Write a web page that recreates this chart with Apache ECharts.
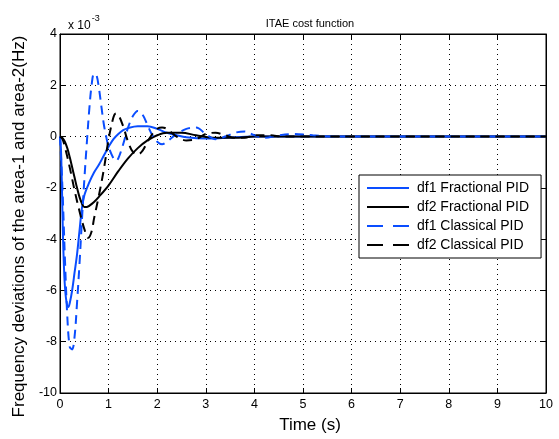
<!DOCTYPE html>
<html><head><meta charset="utf-8">
<script src="https://cdn.jsdelivr.net/npm/echarts@6/dist/echarts.min.js"></script>
<style>html,body{margin:0;padding:0;background:#fff}#c{width:559px;height:439px}</style>
</head><body><div id="c"></div>
<script>
// values in units of 1e-3 Hz
var tBlueSolid = [0,0.02,0.04,0.06,0.08,0.1,0.13,0.17,0.2,0.25,0.3,0.35,0.4,0.45,0.5,0.6,0.7,0.8,0.9,1.0,1.1,1.2,1.3,1.4,1.6,1.8,2.0,2.2,2.4,2.6,3.0,3.4,4,5,6,7,8,9,10];
var df1Fractional = [0,-0.5,-2.0,-3.8,-5.0,-5.8,-6.4,-6.65,-6.5,-6.0,-5.3,-4.6,-3.7,-2.8,-2.3,-1.8,-1.4,-1.1,-0.75,-0.4,-0.1,0.1,0.25,0.33,0.4,0.4,0.3,0.15,0.05,-0.03,-0.08,-0.05,0,0,0,0,0,0,0];

var tBlackSolid = [0,0.05,0.1,0.15,0.2,0.25,0.3,0.35,0.4,0.45,0.5,0.55,0.6,0.7,0.8,1.0,1.2,1.4,1.6,1.8,2.0,2.2,2.5,2.8,3.2,3.6,4,5,6,7,8,9,10];
var df2Fractional = [0,-0.05,-0.2,-0.45,-0.8,-1.2,-1.6,-2.0,-2.35,-2.6,-2.75,-2.75,-2.7,-2.55,-2.35,-1.9,-1.35,-0.85,-0.45,-0.15,0.05,0.15,0.15,0.05,-0.05,-0.05,0,0,0,0,0,0,0];

var tBlueDash = [0,0.05,0.1,0.15,0.2,0.25,0.3,0.35,0.4,0.45,0.5,0.55,0.6,0.65,0.7,0.75,0.8,0.85,0.9,0.95,1.0,1.1,1.15,1.2,1.3,1.4,1.5,1.6,1.7,1.8,1.9,2.0,2.1,2.2,2.4,2.6,2.8,3.0,3.2,3.4,3.6,3.8,4.0,4.2,4.5,4.8,5.2,5.6,6,7,8,9,10];
var df1Classical = [0,-2.0,-4.7,-7.0,-8.2,-8.3,-7.8,-6.5,-5.0,-3.3,-1.7,-0.3,1.0,2.0,2.45,2.4,1.9,1.2,0.5,0.0,-0.4,-0.85,-0.95,-0.85,-0.3,0.35,0.8,1.0,0.85,0.45,0.05,-0.2,-0.3,-0.2,0.1,0.3,0.35,0.1,-0.1,0,0.15,0.2,0.05,-0.05,0.05,0.1,0.05,0,0,0,0,0,0];

var tBlackDash = [0,0.05,0.1,0.2,0.3,0.4,0.5,0.58,0.65,0.7,0.8,0.9,1.0,1.1,1.15,1.2,1.3,1.4,1.5,1.6,1.7,1.8,1.9,2.0,2.1,2.2,2.4,2.6,2.8,3.0,3.2,3.4,3.6,3.8,4.0,4.3,4.6,5,6,7,8,9,10];
var df2Classical = [0,-0.1,-0.4,-1.2,-2.1,-2.9,-3.6,-3.95,-3.7,-3.2,-2.3,-1.3,-0.1,0.75,0.9,0.85,0.4,-0.2,-0.6,-0.7,-0.55,-0.2,0.1,0.3,0.35,0.3,0.0,-0.15,-0.1,0.1,0.15,0.05,-0.05,-0.05,0.05,0.05,0,0,0,0,0,0,0];

var xTicks = [0,1,2,3,4,5,6,7,8,9,10];
var yTicks = [-10,-8,-6,-4,-2,0,2,4];
var seriesNames = ['df1 Fractional PID','df2 Fractional PID','df1 Classical PID','df2 Classical PID'];

function pairs(t, v){ return t.map(function(x,i){ return [x, v[i]]; }); }

var FONT = 'Liberation Sans, Arial, sans-serif';
var BLUE = '#0a4dff';
var SOLID_ICON = 'path://M0,0H42V2H0Z';
var DASH_ICON = 'path://M0,0H16V2H0Z M26,0H42V2H26Z';
var chart = echarts.init(document.getElementById('c'), null, {renderer:'canvas'});
function mk(name, data, color, dashed){
  return {name:name, type:'line', data:data, xAxisIndex:0, yAxisIndex:0,
    showSymbol:false, symbol:'none', smooth:0.35, animation:false,
    lineStyle:{color:color, width:2, type: dashed ? [9,6] : 'solid'},
    itemStyle:{color:color}};
}
var gridLine = {show:true, lineStyle:{color:'#000', type:[1,4], width:1}};
chart.setOption({
  animation:false,
  title:[{text:'ITAE cost function', left:305, textAlign:'center', top:13,
    textStyle:{fontFamily:FONT, fontSize:11, fontWeight:'normal', color:'#000'}},
    {text:'{a|x 10}{b|-3}', left:63, top:9,
    textStyle:{fontWeight:'normal', rich:{a:{fontFamily:FONT, fontSize:12, fontWeight:'normal', color:'#000', padding:[6,0,0,0]}, b:{fontFamily:FONT, fontSize:9, fontWeight:'normal', color:'#000', verticalAlign:'top', padding:[0,0,8,1]}}}}],
  grid:{left:60, right:13, top:34, bottom:42, show:true, borderColor:'#000', borderWidth:1, backgroundColor:'#fff'},
  legend:{left:359, top:175, orient:'vertical', itemGap:5, itemWidth:42, itemHeight:2,
    data:[{name:seriesNames[0], icon:SOLID_ICON},{name:seriesNames[1], icon:SOLID_ICON},
          {name:seriesNames[2], icon:DASH_ICON},{name:seriesNames[3], icon:DASH_ICON}],
    backgroundColor:'#fff', borderColor:'#000', borderWidth:1, padding:[6,12,6,8], borderRadius:0,
    textStyle:{fontFamily:FONT, fontSize:14, color:'#000', padding:[0,0,0,3]}},
  xAxis:[{type:'value', min:0, max:10, interval:1, position:'bottom',
    name:'Time (s)', nameLocation:'middle', nameGap:24,
    nameTextStyle:{fontFamily:FONT, fontSize:17, color:'#000', padding:[0,0,0,14]},
    axisLine:{show:true, onZero:false, lineStyle:{color:'#000', width:1}},
    axisTick:{show:true, inside:true, length:5, lineStyle:{color:'#000'}},
    axisLabel:{fontFamily:FONT, fontSize:12.5, color:'#000', margin:5},
    splitLine:gridLine},
    {type:'value', min:0, max:10, interval:1, position:'top',
    axisLine:{show:true, onZero:false, lineStyle:{color:'#000'}},
    axisTick:{show:true, inside:true, length:5, lineStyle:{color:'#000'}},
    axisLabel:{show:false}, splitLine:{show:false}}],
  yAxis:[{type:'value', min:-10, max:4, interval:2, position:'left',
    name:'Frequency deviations of the area-1 and area-2(Hz)', nameLocation:'middle', nameGap:32,
    nameTextStyle:{fontFamily:FONT, fontSize:17, color:'#000', padding:[0,26,0,0]},
    axisLine:{show:true, onZero:false, lineStyle:{color:'#000', width:1}},
    axisTick:{show:true, inside:true, length:5, lineStyle:{color:'#000'}},
    axisLabel:{fontFamily:FONT, fontSize:12.5, color:'#000', margin:3},
    splitLine:gridLine},
    {type:'value', min:-10, max:4, interval:2, position:'right',
    axisLine:{show:true, onZero:false, lineStyle:{color:'#000'}},
    axisTick:{show:true, inside:true, length:5, lineStyle:{color:'#000'}},
    axisLabel:{show:false}, splitLine:{show:false}}],
  series:[
    mk(seriesNames[0], pairs(tBlueSolid, df1Fractional), BLUE, false),
    mk(seriesNames[1], pairs(tBlackSolid, df2Fractional), '#000', false),
    mk(seriesNames[2], pairs(tBlueDash, df1Classical), BLUE, true),
    mk(seriesNames[3], pairs(tBlackDash, df2Classical), '#000', true)
  ]
});
</script></body></html>
